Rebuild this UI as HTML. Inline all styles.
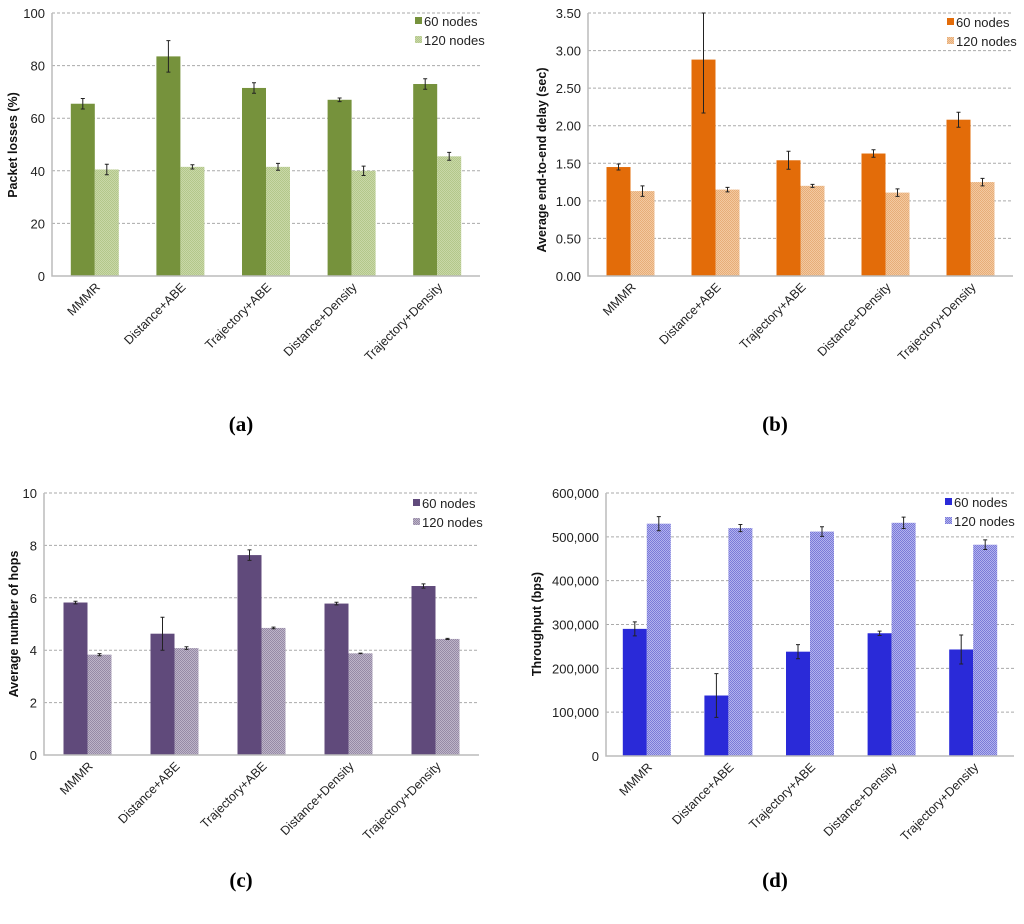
<!DOCTYPE html>
<html><head><meta charset="utf-8"><style>
body{margin:0;background:#fff;width:1024px;height:924px;overflow:hidden}
svg{display:block;font-family:"Liberation Sans",Arial,sans-serif}
</style></head><body>
<svg id="root" width="1024" height="924">
<defs>
<pattern id="pg" width="2" height="2" patternUnits="userSpaceOnUse"><rect width="2" height="2" fill="#c9d8a8"/><rect width="1" height="1" fill="#b3c78a"/><rect x="1" y="1" width="1" height="1" fill="#b3c78a"/></pattern>
<pattern id="po" width="2" height="2" patternUnits="userSpaceOnUse"><rect width="2" height="2" fill="#f3c9a0"/><rect width="1" height="1" fill="#e7ad78"/><rect x="1" y="1" width="1" height="1" fill="#e7ad78"/></pattern>
<pattern id="pp" width="2" height="2" patternUnits="userSpaceOnUse"><rect width="2" height="2" fill="#bdb4c8"/><rect width="1" height="1" fill="#968aa6"/><rect x="1" y="1" width="1" height="1" fill="#968aa6"/></pattern>
<pattern id="pb" width="2" height="2" patternUnits="userSpaceOnUse"><rect width="2" height="2" fill="#b2b2ee"/><rect width="1" height="1" fill="#7a7ad8"/><rect x="1" y="1" width="1" height="1" fill="#7a7ad8"/></pattern>
</defs>
</svg>
<script>
const categories = ["MMMR","Distance+ABE","Trajectory+ABE","Distance+Density","Trajectory+Density"];
const seriesNames = ["60 nodes","120 nodes"];
const lossA60 = [65.5, 83.5, 71.5, 67, 73];
const lossA60Err = [2, 6, 2, 0.7, 2];
const lossA120 = [40.5, 41.5, 41.5, 40, 45.5];
const lossA120Err = [2, 0.8, 1.3, 1.8, 1.5];
const lossTicks = ["0","20","40","60","80","100"];
const delay60 = [1.45, 2.88, 1.54, 1.63, 2.08];
const delay60Err = [0.04, 0.71, 0.12, 0.05, 0.10];
const delay120 = [1.13, 1.15, 1.20, 1.11, 1.25];
const delay120Err = [0.07, 0.03, 0.02, 0.05, 0.05];
const delayTicks = ["0.00","0.50","1.00","1.50","2.00","2.50","3.00","3.50"];
const hops60 = [5.82, 4.63, 7.63, 5.78, 6.45];
const hops60Err = [0.05, 0.63, 0.2, 0.05, 0.08];
const hops120 = [3.83, 4.08, 4.85, 3.88, 4.43];
const hops120Err = [0.04, 0.05, 0.03, 0.01, 0.02];
const hopsTicks = ["0","2","4","6","8","10"];
const thr60 = [290000, 138000, 238000, 280000, 243000];
const thr60Err = [16000, 50000, 16000, 5000, 33000];
const thr120 = [530000, 520000, 512000, 532000, 482000];
const thr120Err = [16000, 8000, 11000, 13000, 11000];
const thrTicks = ["0","100,000","200,000","300,000","400,000","500,000","600,000"];

const NS = "http://www.w3.org/2000/svg";
const root = document.getElementById('root');
function mk(tag, attrs, parent, text){
  const e = document.createElementNS(NS, tag);
  for (const k in attrs) e.setAttribute(k, attrs[k]);
  if (text !== undefined) e.textContent = text;
  parent.appendChild(e); return e;
}
function chart(o){
  const g = mk('g', {}, root);
  
  
  const ymax = o.max;
  const y = v => o.bottom - (v / ymax) * (o.bottom - o.top);
  const step = (o.right - o.left) / categories.length;
  const xc = i => o.left + step * (i + 0.5);
  o.ticks.forEach((t, i) => {
    const v = ymax * i / (o.ticks.length - 1);
    if (i > 0) {
      const gl = mk('line', {x1:o.left, x2:o.right, y1:y(v), y2:y(v), stroke:'#aaa', 'stroke-dasharray':'3,2', 'stroke-width':1}, g);
      
      
    }
    const tl = mk('text', {x:o.left - 7, y:y(v) + 5, 'text-anchor':'end', 'font-size':13, fill:'#222'}, g, t);
    
    
  });
  const bw = 24;
  const series = [[o.s1, o.e1, o.c1], [o.s2, o.e2, o.c2]];
  series.forEach((s, si) => {
    s[0].forEach((v, i) => {
      const x0 = xc(i) - bw + si * bw;
      const r = mk('rect', {x:x0, y:y(v), width:bw, height:o.bottom - y(v), fill:s[2]}, g);
      
      
      const cx = x0 + bw / 2;
      const hi = Math.min(v + s[1][i], ymax), lo = v - s[1][i];
      const eb = mk('path', {d:`M${cx-2},${y(hi)}H${cx+2}M${cx},${y(hi)}V${y(lo)}M${cx-2},${y(lo)}H${cx+2}`, stroke:'#222', 'stroke-width':1, fill:'none'}, g);
      
      
    });
  });
  const ax = mk('path', {d:`M${o.left},${o.top}V${o.bottom}H${o.right}`, stroke:'#bbb', 'stroke-width':1.5, fill:'none'}, g);
  
  
  categories.forEach((c, i) => {
    const tx = xc(i) + 6, ty = o.bottom + 12;
    const t = mk('text', {x:tx, y:ty, 'text-anchor':'end', 'font-size':12.5, fill:'#222', transform:`rotate(-45 ${tx} ${ty})`}, g, c);
    
    
  });
  const yt = mk('text', {x:o.ytx, y:o.yty, 'text-anchor':'middle', 'font-size':12.5, 'font-weight':'bold', fill:'#111', transform:`rotate(-90 ${o.ytx} ${o.yty})`}, g, o.ytitle);
  
  
  [o.c1, o.c2].forEach((c, i) => {
    const sw = mk('rect', {x:o.lx, y:o.ly + i * 19 - 9, width:7, height:7, fill:c}, g);
    
    
    const lt = mk('text', {x:o.lx + 9, y:o.ly + i * 19, 'font-size':13, fill:'#222'}, g, seriesNames[i]);
    
    
  });
  const cap = mk('text', {x:o.capx, y:o.capy, 'text-anchor':'middle', 'font-size':21, 'font-weight':'bold', 'font-family':'Liberation Serif, serif', fill:'#000'}, g, o.cap);
  
  
}
chart({name:'chart-packet-loss', left:52, right:480, top:13, bottom:276, max:100, ticks:lossTicks, s1:lossA60, e1:lossA60Err, s2:lossA120, e2:lossA120Err, c1:'#76923c', c2:'url(#pg)', ytitle:'Packet losses (%)', ytx:17, yty:145, lx:415, ly:26, cap:'(a)', capx:241, capy:431});
chart({name:'chart-delay', left:588, right:1013, top:13, bottom:276, max:3.5, ticks:delayTicks, s1:delay60, e1:delay60Err, s2:delay120, e2:delay120Err, c1:'#e36c09', c2:'url(#po)', ytitle:'Average end-to-end delay (sec)', ytx:546, yty:160, lx:947, ly:27, cap:'(b)', capx:775, capy:431});
chart({name:'chart-hops', left:44, right:479, top:493, bottom:755, max:10, ticks:hopsTicks, s1:hops60, e1:hops60Err, s2:hops120, e2:hops120Err, c1:'#604a7b', c2:'url(#pp)', ytitle:'Average number of hops', ytx:18, yty:624, lx:413, ly:508, cap:'(c)', capx:241, capy:887});
chart({name:'chart-throughput', left:606, right:1014, top:493, bottom:756, max:600000, ticks:thrTicks, s1:thr60, e1:thr60Err, s2:thr120, e2:thr120Err, c1:'#2a2ad8', c2:'url(#pb)', ytitle:'Throughput (bps)', ytx:541, yty:624, lx:945, ly:507, cap:'(d)', capx:775, capy:887});
</script>
</body></html>
